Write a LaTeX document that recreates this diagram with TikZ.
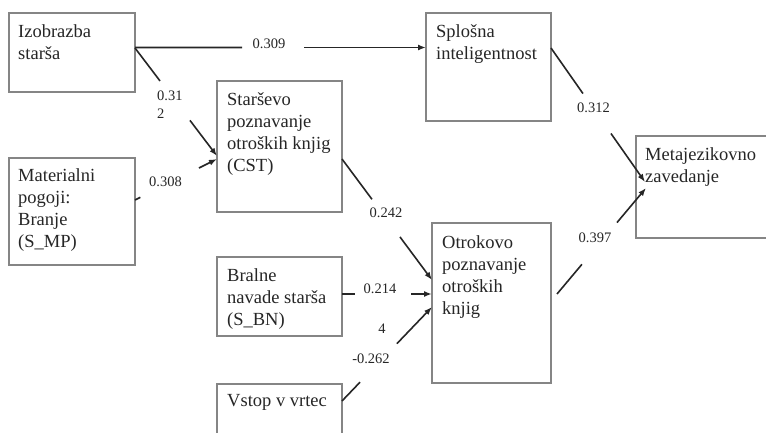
\documentclass[tikz,border=0pt]{standalone}
\usepackage{fontspec}
\setmainfont{Liberation Serif}
\newfontfamily\diagfont{Liberation Serif}
\usetikzlibrary{calc,arrows.meta}
\definecolor{boxgray}{HTML}{858585}
\definecolor{inkgray}{HTML}{262626}
\definecolor{txtgray}{HTML}{262626}
\tikzset{
  box/.style={draw=boxgray, line width=1.4pt, inner sep=0pt, outer sep=0pt, anchor=north west},
  boxtext/.style={anchor=north west, inner sep=0pt, align=left, text=txtgray, font=\diagfont\fontsize{18.5}{22}\selectfont},
  lab/.style={inner sep=0pt, text=txtgray, font=\diagfont\fontsize{14.5}{17.5}\selectfont},
  conn/.style={draw=inkgray, line width=1.6pt},
  arr/.style={conn, -{Latex[length=8pt,width=6pt]}}
}
\begin{document}
\begin{tikzpicture}[x=1pt,y=1pt]
\clip (0,0) rectangle (766,432);
\fill[white] (0,0) rectangle (766,432);

% boxes
\node[box, minimum width=126pt, minimum height=79pt]  (izo) at (9,419) {};
\node[box, minimum width=126pt, minimum height=107pt] (mat) at (9,274) {};
\node[box, minimum width=125pt, minimum height=131pt] (cst) at (217,351) {};
\node[box, minimum width=125pt, minimum height=108pt] (spl) at (426,419) {};
\node[box, minimum width=140pt, minimum height=102pt] (meta) at (636,296) {};
\node[box, minimum width=119pt, minimum height=160pt] (otr) at (432,209) {};
\node[box, minimum width=125pt, minimum height=79pt]  (bra) at (217,175) {};
\node[box, minimum width=125pt, minimum height=60pt]  (vst) at (217,48) {};

% box texts
\node[boxtext] (tizo) at ($(izo.north west)+(9,-11)$) {Izobrazba\\starša};
\node[boxtext] (tmat) at ($(mat.north west)+(9,-10)$) {Materialni\\pogoji:\\Branje\\(S\_MP)};
\node[boxtext] (tcst) at ($(cst.north west)+(10,-11)$) {Starševo\\poznavanje\\otroških knjig\\(CST)};
\node[boxtext] (tspl) at ($(spl.north west)+(10,-11)$) {Splošna\\inteligentnost};
\node[boxtext] (tmeta) at ($(meta.north west)+(9,-11)$) {Metajezikovno\\zavedanje};
\node[boxtext] (totr) at ($(otr.north west)+(10,-12)$) {Otrokovo\\poznavanje\\otroških\\knjig};
\node[boxtext] (tbra) at ($(bra.north west)+(10,-11)$) {Bralne\\navade starša\\(S\_BN)};
\node[boxtext] (tvst) at ($(vst.north west)+(10,-10)$) {Vstop v vrtec};

% connector end points
\coordinate (a1) at ($(izo.north east)+(0,-34.5)$);
\coordinate (b1) at ($(spl.north west)+(0,-34.5)$);
\coordinate (a2) at ($(izo.north east)+(0,-35)$);
\coordinate (b2) at ($(cst.north west)+(0,-75)$);
\coordinate (a3) at ($(mat.north east)+(0,-42)$);
\coordinate (b3) at ($(cst.north west)+(0,-78)$);
\coordinate (a4) at ($(cst.north east)+(0,-78)$);
\coordinate (b4) at ($(otr.north west)+(0,-57)$);
\coordinate (a5) at ($(bra.north east)+(0,-37)$);
\coordinate (b5) at ($(otr.north west)+(0,-71)$);
\coordinate (a6) at ($(vst.north east)+(0,-17)$);
\coordinate (b6) at ($(otr.north west)+(0,-84)$);
\coordinate (a7) at ($(spl.north east)+(0,-35)$);
\coordinate (b7) at ($(meta.north west)+(9,-46)$);
\coordinate (a8) at ($(otr.north east)+(6,-71)$);
\coordinate (b8) at ($(meta.north west)+(10,-52)$);

% connectors (with gaps for labels)
\draw[conn] (a1) -- ($(a1)!0.368!(b1)$);
\draw[arr] ($(a1)!0.581!(b1)$) -- (b1);
\draw[conn] (a2) -- ($(a2)!0.305!(b2)$);
\draw[arr] ($(a2)!0.67!(b2)$) -- (b2);
\draw[conn] (a3) -- ($(a3)!0.065!(b3)$);
\draw[arr] ($(a3)!0.78!(b3)$) -- (b3);
\draw[conn] (a4) -- ($(a4)!0.333!(b4)$);
\draw[arr] ($(a4)!0.644!(b4)$) -- (b4);
\draw[conn] (a5) -- ($(a5)!0.144!(b5)$);
\draw[arr] ($(a5)!0.767!(b5)$) -- (b5);
\draw[conn] (a6) -- ($(a6)!0.2!(b6)$);
\draw[arr] ($(a6)!0.61!(b6)$) -- (b6);
\draw[conn] (a7) -- ($(a7)!0.34!(b7)$);
\draw[arr] ($(a7)!0.638!(b7)$) -- (b7);
\draw[conn] (a8) -- ($(a8)!0.28!(b8)$);
\draw[arr] ($(a8)!0.674!(b8)$) -- (b8);

% labels
\node[lab] (l1) at (269,388) {0.309};
\node[lab, anchor=north west, align=left] (l2) at (157,341) {0.31\\2};
\node[lab] (l3) at (165.5,250) {0.308};
\node[lab] (l4) at (386,219) {0.242};
\node[lab] (l5) at (380,143.5) {0.214};
\node[lab] (l6) at (382,103.5) {4};
\node[lab] (l7) at (371,73.5) {-0.262};
\node[lab] (l8) at (593.5,324) {0.312};
\node[lab] (l9) at (595,194) {0.397};
\end{tikzpicture}
\end{document}
